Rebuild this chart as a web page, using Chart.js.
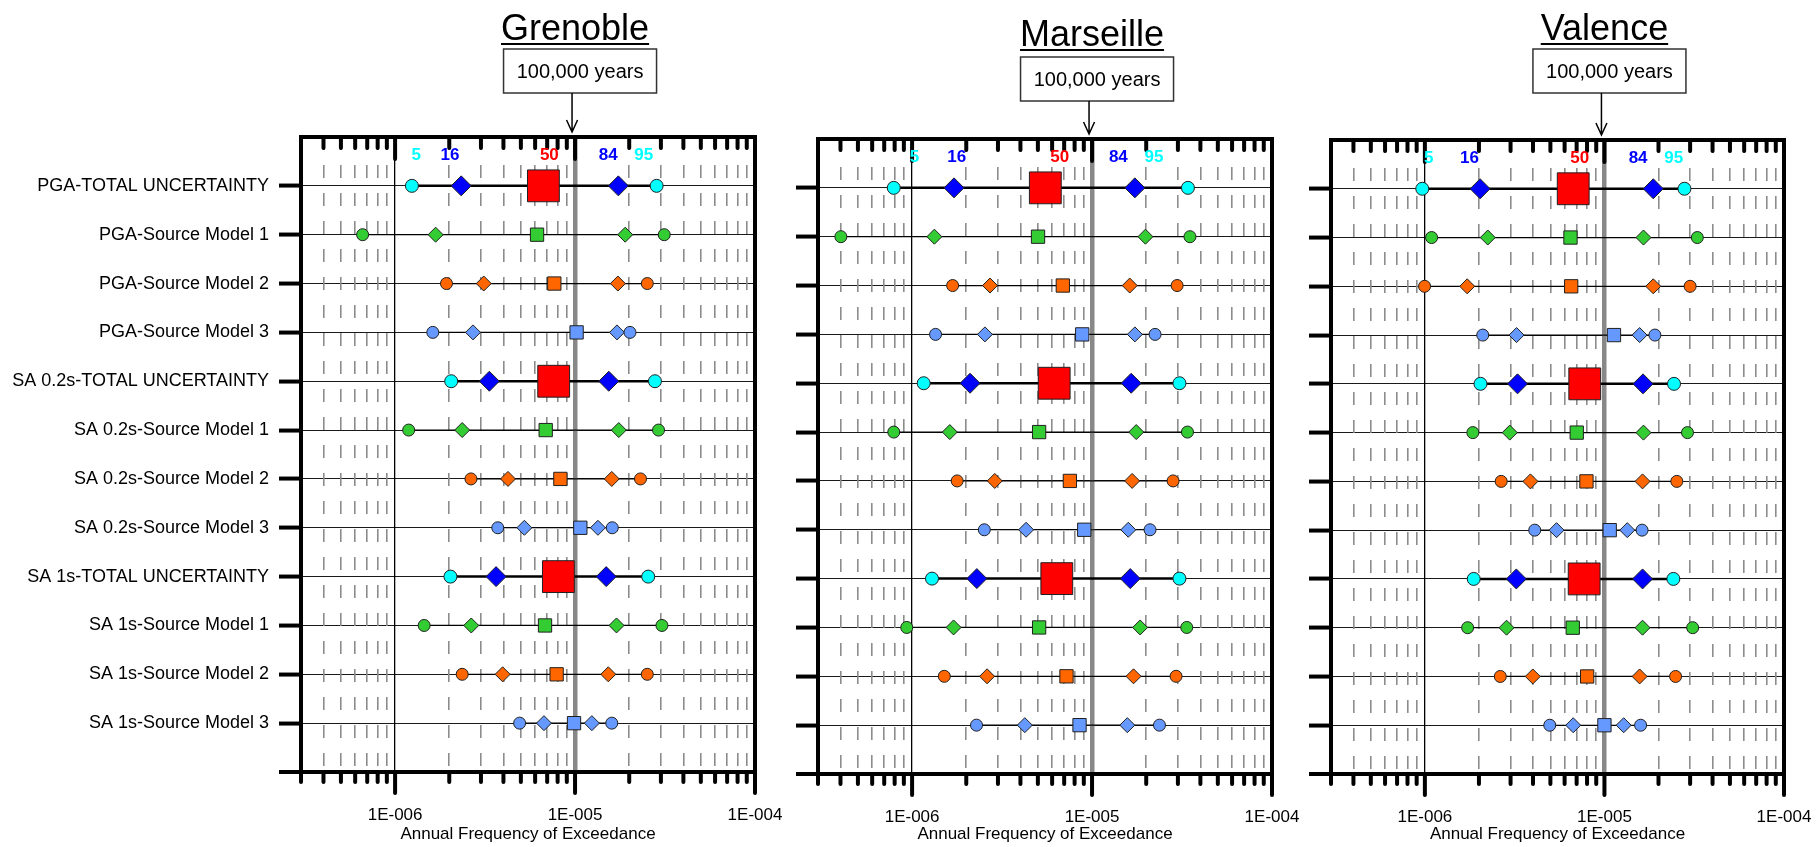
<!DOCTYPE html>
<html>
<head>
<meta charset="utf-8">
<script src="https://cdn.jsdelivr.net/npm/chart.js@4.4.0/dist/chart.umd.min.js"></script>
<style>
  html, body { margin: 0; padding: 0; background: #fff; }
  body { width: 1816px; height: 847px; position: relative; overflow: hidden; }
  canvas { position: absolute; top: 0; }
</style>
</head>
<body>
<canvas id="grenoble" width="790" height="847" style="left:0px"></canvas>
<canvas id="marseille" width="515" height="847" style="left:790px"></canvas>
<canvas id="valence" width="511" height="847" style="left:1305px"></canvas>
<script>
// rows, top to bottom
const rowLabels = [
  'PGA-TOTAL UNCERTAINTY', 'PGA-Source Model 1', 'PGA-Source Model 2', 'PGA-Source Model 3',
  'SA 0.2s-TOTAL UNCERTAINTY', 'SA 0.2s-Source Model 1', 'SA 0.2s-Source Model 2', 'SA 0.2s-Source Model 3',
  'SA 1s-TOTAL UNCERTAINTY', 'SA 1s-Source Model 1', 'SA 1s-Source Model 2', 'SA 1s-Source Model 3'
];

// annual frequency of exceedance, percentiles 5 / 16 / 50 / 84 / 95
const grenobleP5  = [1.24e-6, 6.6e-7, 1.93e-6, 1.62e-6, 2.05e-6, 1.19e-6, 2.64e-6, 3.72e-6, 2.03e-6, 1.45e-6, 2.36e-6, 4.92e-6];
const grenobleP16 = [2.33e-6, 1.68e-6, 3.11e-6, 2.71e-6, 3.34e-6, 2.36e-6, 4.24e-6, 5.23e-6, 3.64e-6, 2.65e-6, 3.96e-6, 6.72e-6];
const grenobleP50 = [6.67e-6, 6.15e-6, 7.67e-6, 1.02e-5, 7.61e-6, 6.87e-6, 8.29e-6, 1.07e-5, 8.08e-6, 6.81e-6, 7.9e-6, 9.87e-6];
const grenobleP84 = [1.74e-5, 1.90e-5, 1.73e-5, 1.71e-5, 1.54e-5, 1.75e-5, 1.60e-5, 1.34e-5, 1.49e-5, 1.70e-5, 1.53e-5, 1.24e-5];
const grenobleP95 = [2.84e-5, 3.13e-5, 2.52e-5, 2.02e-5, 2.78e-5, 2.91e-5, 2.31e-5, 1.61e-5, 2.55e-5, 3.04e-5, 2.52e-5, 1.60e-5];

const marseilleP5  = [7.91e-7, 4.02e-7, 1.68e-6, 1.35e-6, 1.16e-6, 7.91e-7, 1.78e-6, 2.52e-6, 1.29e-6, 9.34e-7, 1.51e-6, 2.28e-6];
const marseilleP16 = [1.71e-6, 1.33e-6, 2.71e-6, 2.54e-6, 2.10e-6, 1.62e-6, 2.88e-6, 4.30e-6, 2.29e-6, 1.70e-6, 2.61e-6, 4.23e-6];
const marseilleP50 = [5.50e-6, 5.01e-6, 6.88e-6, 8.82e-6, 6.16e-6, 5.08e-6, 7.53e-6, 9.05e-6, 6.37e-6, 5.08e-6, 7.21e-6, 8.52e-6];
const marseilleP84 = [1.73e-5, 1.98e-5, 1.62e-5, 1.73e-5, 1.65e-5, 1.76e-5, 1.67e-5, 1.59e-5, 1.63e-5, 1.85e-5, 1.70e-5, 1.57e-5];
const marseilleP95 = [3.41e-5, 3.50e-5, 2.97e-5, 2.24e-5, 3.06e-5, 3.39e-5, 2.82e-5, 2.10e-5, 3.06e-5, 3.36e-5, 2.93e-5, 2.37e-5];

const valenceP5  = [9.67e-7, 1.09e-6, 9.96e-7, 2.10e-6, 2.04e-6, 1.85e-6, 2.66e-6, 4.09e-6, 1.87e-6, 1.73e-6, 2.63e-6, 4.96e-6];
const valenceP16 = [2.03e-6, 2.24e-6, 1.72e-6, 3.24e-6, 3.28e-6, 2.97e-6, 3.87e-6, 5.41e-6, 3.23e-6, 2.85e-6, 3.99e-6, 6.70e-6];
const valenceP50 = [6.70e-6, 6.47e-6, 6.53e-6, 1.13e-5, 7.77e-6, 7.01e-6, 7.94e-6, 1.07e-5, 7.71e-6, 6.66e-6, 8.01e-6, 1.00e-5];
const valenceP84 = [1.87e-5, 1.65e-5, 1.87e-5, 1.57e-5, 1.64e-5, 1.65e-5, 1.63e-5, 1.34e-5, 1.63e-5, 1.63e-5, 1.57e-5, 1.28e-5];
const valenceP95 = [2.79e-5, 3.29e-5, 3.00e-5, 1.91e-5, 2.44e-5, 2.90e-5, 2.53e-5, 1.62e-5, 2.42e-5, 3.10e-5, 2.49e-5, 1.59e-5];

// x axis ticks (log scale) and labels
const xTicks = [3e-7, 4e-7, 5e-7, 6e-7, 7e-7, 8e-7, 9e-7,
  1e-6, 2e-6, 3e-6, 4e-6, 5e-6, 6e-6, 7e-6, 8e-6, 9e-6,
  1e-5, 2e-5, 3e-5, 4e-5, 5e-5, 6e-5, 7e-5, 8e-5, 9e-5, 1e-4];
const xMajorTicks = [1e-6, 1e-5, 1e-4];
const xMajorLabels = ['1E-006', '1E-005', '1E-004'];
const yTicks = [1, 2, 3, 4, 5, 6, 7, 8, 9, 10, 11, 12, 13];

// percentile names written along the top, and where they sit on the x axis
const percentileNames = ['5', '16', '50', '84', '95'];
const grenobleNameAt = [1.31e-6, 2.02e-6, 7.2e-6, 1.53e-5, 2.41e-5];
const marseilleNameAt = [1.03e-6, 1.77e-6, 6.62e-6, 1.40e-5, 2.21e-5];
const valenceNameAt = [1.05e-6, 1.77e-6, 7.29e-6, 1.54e-5, 2.43e-5];
const returnPeriodText = '100,000 years';
const returnPeriodFreq = 1e-5;

// styles
const FONT = "'Liberation Sans', Arial, sans-serif";
const percentileColors = ['#00FFFF', '#0000FF', '#FF0000', '#0000FF', '#00FFFF'];
const markerShapes = ['circle', 'rectRot', 'rect', 'rectRot', 'circle'];
const markerFill = [
  percentileColors,
  ['#33CC33', '#33CC33', '#33CC33', '#33CC33', '#33CC33'],
  ['#FF6600', '#FF6600', '#FF6600', '#FF6600', '#FF6600'],
  ['#6699FF', '#6699FF', '#6699FF', '#6699FF', '#6699FF']
];
const totalRadius = [6.5, 10, 22.5, 10, 6.5];
const sourceRadius = [6, 7.5, 9.4, 7.5, 6];

Chart.defaults.font.family = FONT;
Chart.defaults.color = '#000';

function panelPlugin(p) {
  return {
    id: 'panel',
    afterDraw(chart) {
      const ctx = chart.ctx;
      const a = chart.chartArea;
      const xs = chart.scales.x;
      ctx.save();

      // heavy frame
      ctx.strokeStyle = '#000';
      ctx.lineWidth = 4;
      ctx.strokeRect(a.left, a.top, a.right - a.left, a.bottom - a.top);

      // tick marks: inside on top, outside at bottom
      ctx.lineCap = 'round';
      xTicks.forEach((v, i) => {
        const x = xs.getPixelForValue(v);
        const major = xMajorTicks.includes(v);
        if (i > 0) {
          ctx.beginPath();
          ctx.moveTo(x, a.top);
          ctx.lineTo(x, a.top + (major ? 22 : 11));
          ctx.stroke();
        }
        ctx.beginPath();
        ctx.moveTo(x, a.bottom);
        ctx.lineTo(x, a.bottom + (major ? 21 : 10));
        ctx.stroke();
      });

      // percentile names
      ctx.font = 'bold 17px ' + FONT;
      ctx.textAlign = 'center';
      ctx.textBaseline = 'middle';
      percentileNames.forEach((t, i) => {
        ctx.fillStyle = percentileColors[i];
        ctx.fillText(t, xs.getPixelForValue(p.nameAt[i]), a.top + 18);
      });

      // city title, return period box and arrow
      const ax = xs.getPixelForValue(returnPeriodFreq) - 3;
      ctx.fillStyle = '#000';
      ctx.font = '36px ' + FONT;
      ctx.textBaseline = 'alphabetic';
      const tx = ax + 3;
      ctx.fillText(p.city, tx, p.titleY);
      const tw = ctx.measureText(p.city).width;
      ctx.lineCap = 'butt';
      ctx.lineWidth = 2;
      ctx.beginPath();
      ctx.moveTo(tx - tw / 2, p.titleY + 4);
      ctx.lineTo(tx + tw / 2, p.titleY + 4);
      ctx.stroke();

      const bw = 153, bh = 44, bx = ax + 8 - bw / 2;
      ctx.fillStyle = '#fff';
      ctx.fillRect(bx, p.boxTop, bw, bh);
      ctx.strokeStyle = '#333';
      ctx.lineWidth = 1.5;
      ctx.strokeRect(bx, p.boxTop, bw, bh);
      ctx.fillStyle = '#000';
      ctx.font = '20px ' + FONT;
      ctx.textBaseline = 'middle';
      ctx.fillText(returnPeriodText, bx + bw / 2, p.boxTop + bh / 2 + 1);

      ctx.strokeStyle = '#000';
      ctx.lineWidth = 1.5;
      ctx.beginPath();
      ctx.moveTo(ax, p.boxTop + bh);
      ctx.lineTo(ax, a.top - 5);
      ctx.moveTo(ax - 5.5, a.top - 17);
      ctx.lineTo(ax, a.top - 5);
      ctx.lineTo(ax + 5.5, a.top - 17);
      ctx.stroke();

      ctx.restore();
    }
  };
}

function makeChart(id, p) {
  const datasets = [];
  for (let r = 0; r < rowLabels.length; r++) {
    const kind = r % 4;
    const vals = [p.p5[r], p.p16[r], p.p50[r], p.p84[r], p.p95[r]];
    datasets.push({
      label: rowLabels[r],
      data: vals.map(v => ({ x: v, y: r + 1 })),
      showLine: true,
      borderColor: '#000',
      borderWidth: kind === 0 ? 2.5 : 1.2,
      pointStyle: markerShapes,
      pointRadius: kind === 0 ? totalRadius : sourceRadius,
      pointBackgroundColor: markerFill[kind],
      pointBorderColor: '#202020',
      pointBorderWidth: 1
    });
  }

  new Chart(document.getElementById(id), {
    type: 'scatter',
    data: { datasets: datasets },
    options: {
      responsive: false,
      animation: false,
      devicePixelRatio: 1,
      events: [],
      layout: { padding: { top: p.top, right: p.right, bottom: 0, left: 0 } },
      plugins: { legend: { display: false }, tooltip: { enabled: false } },
      scales: {
        y: {
          type: 'linear',
          min: 0,
          max: 13,
          reverse: true,
          position: 'left',
          afterBuildTicks: s => { s.ticks = yTicks.map(v => ({ value: v })); },
          afterFit: s => {
            s.width = p.left;
            s.paddingTop = 0;
            s.paddingBottom = 0;
          },
          ticks: {
            autoSkip: false,
            padding: 10,
            font: { size: 18 },
            color: '#000',
            callback: v => (p.showNames ? (rowLabels[v - 1] || '') : '')
          },
          grid: {
            color: '#1a1a1a',
            lineWidth: c => (c.tick && c.tick.value === 13 ? 0 : 1.1),
            tickLength: 22,
            tickWidth: 4,
            tickColor: '#000'
          },
          border: { display: false }
        },
        x: {
          type: 'logarithmic',
          min: 3e-7,
          max: 1e-4,
          position: 'bottom',
          afterBuildTicks: s => { s.ticks = xTicks.map(v => ({ value: v })); },
          afterFit: s => {
            s.height = 847 - p.bottom;
            s.paddingLeft = 0;
            s.paddingRight = 0;
          },
          ticks: {
            autoSkip: false,
            maxRotation: 0,
            padding: 33,
            font: { size: 17 },
            color: '#000',
            callback: v => {
              const i = xMajorTicks.indexOf(v);
              return i < 0 ? '' : xMajorLabels[i];
            }
          },
          grid: {
            drawTicks: false,
            color: c => {
              const v = c.tick ? c.tick.value : 0;
              if (v === 1e-5) return '#888888';
              if (v === 1e-6) return '#000';
              if (v === 3e-7 || v === 1e-4) return 'rgba(0,0,0,0)';
              return '#8c8c8c';
            },
            lineWidth: c => {
              const v = c.tick ? c.tick.value : 0;
              if (v === 1e-5) return 4.5;
              if (v === 1e-6) return 1.3;
              return 1.6;
            }
          },
          border: {
            display: false,
            dash: c => (c.tick && !xMajorTicks.includes(c.tick.value) ? [13, 15] : [])
          },
          title: {
            display: true,
            text: 'Annual Frequency of Exceedance',
            font: { size: 17 },
            color: '#000',
            padding: { top: 0, bottom: 2 }
          }
        }
      }
    },
    plugins: [panelPlugin(p)]
  });
}

makeChart('grenoble', {
  city: 'Grenoble', showNames: true,
  p5: grenobleP5, p16: grenobleP16, p50: grenobleP50, p84: grenobleP84, p95: grenobleP95,
  nameAt: grenobleNameAt,
  left: 301, right: 35, top: 137, bottom: 772,
  titleY: 40, boxTop: 49
});
makeChart('marseille', {
  city: 'Marseille', showNames: false,
  p5: marseilleP5, p16: marseilleP16, p50: marseilleP50, p84: marseilleP84, p95: marseilleP95,
  nameAt: marseilleNameAt,
  left: 28, right: 33, top: 139, bottom: 774,
  titleY: 46, boxTop: 57
});
makeChart('valence', {
  city: 'Valence', showNames: false,
  p5: valenceP5, p16: valenceP16, p50: valenceP50, p84: valenceP84, p95: valenceP95,
  nameAt: valenceNameAt,
  left: 26, right: 32, top: 140, bottom: 774,
  titleY: 40, boxTop: 49
});
</script>
</body>
</html>
